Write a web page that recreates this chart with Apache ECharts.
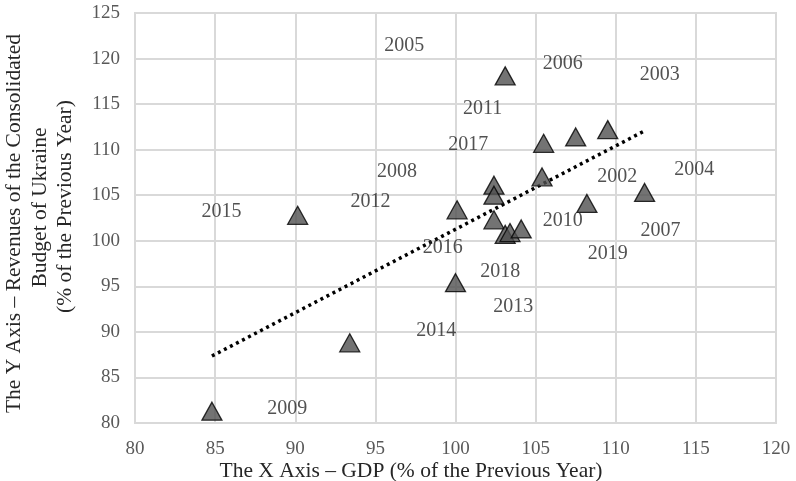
<!DOCTYPE html>
<html>
<head>
<meta charset="utf-8">
<script src="https://cdn.jsdelivr.net/npm/echarts@6/dist/echarts.min.js"></script>
<style>html,body{margin:0;padding:0;background:#fff;}#c{width:796px;height:481px;}</style>
</head>
<body>
<div id="c"></div>
<script>
// GDP (% of previous year) and consolidated budget revenues (% of previous year)
const gdp = [84.8, 93.4, 90.15, 100.0, 100.1, 102.4, 102.4, 102.4, 103.1, 103.4, 104.1, 105.5, 105.4, 107.5, 109.5, 108.2, 111.8, 103.1];
const revenue = [81.3, 88.8, 102.8, 95.4, 103.4, 106.1, 105.0, 102.3, 100.7, 100.9, 101.3, 110.7, 107.0, 111.4, 112.2, 104.1, 105.3, 118.1];

// Year labels and their anchor points (data coordinates)
const yearLabels = ['2005','2006','2003','2011','2017','2008','2012','2015','2009','2016','2018','2010','2002','2004','2007','2019','2013','2014'];
const labelX = [96.8, 106.7, 112.75, 101.7, 100.8, 96.35, 94.7, 85.4, 89.5, 99.2, 102.8, 106.7, 110.1, 114.9, 112.8, 109.5, 103.6, 98.8];
const labelY = [121.4, 119.4, 118.2, 114.5, 110.5, 107.6, 104.3, 103.2, 81.6, 99.2, 96.6, 102.2, 107.0, 107.8, 101.1, 98.6, 92.8, 90.1];

const xTicks = [80, 85, 90, 95, 100, 105, 110, 115, 120];
const yTicks = [80, 85, 90, 95, 100, 105, 110, 115, 120, 125];

const xAxisTitle = 'The X Axis – GDP (% of the Previous Year)';
const yAxisTitle = ['The Y Axis – Revenues of the Consolidated', 'Budget of Ukraine', '(% of the Previous Year)'];

// linear trendline (least squares) from the data
const n = gdp.length;
const mx = gdp.reduce((a, b) => a + b, 0) / n;
const my = revenue.reduce((a, b) => a + b, 0) / n;
let sxy = 0, sxx = 0;
for (let i = 0; i < n; i++) { sxy += (gdp[i] - mx) * (revenue[i] - my); sxx += (gdp[i] - mx) * (gdp[i] - mx); }
const slope = sxy / sxx, icpt = my - slope * mx;
const xmin = Math.min(...gdp), xmax = Math.max(...gdp);
const trend = [[xmin, icpt + slope * xmin], [xmax, icpt + slope * xmax]];

const FONT = 'Liberation Serif';
const chart = echarts.init(document.getElementById('c'), null, { renderer: 'canvas' });
chart.setOption({
  animation: false,
  backgroundColor: '#ffffff',
  grid: { left: 135, right: 20, top: 13, bottom: 58, show: true, borderColor: '#d9d9d9', borderWidth: 2 },
  xAxis: {
    type: 'value', min: xTicks[0], max: xTicks[xTicks.length - 1], interval: 5,
    axisLine: { show: true, lineStyle: { color: '#d9d9d9', width: 2 } },
    axisTick: { show: false },
    axisLabel: { fontFamily: FONT, fontSize: 19, color: '#595959', margin: 17 },
    splitLine: { show: true, lineStyle: { color: '#d9d9d9', width: 2 } }
  },
  yAxis: {
    type: 'value', min: yTicks[0], max: yTicks[yTicks.length - 1], interval: 5,
    axisLine: { show: false },
    axisTick: { show: false },
    axisLabel: { fontFamily: FONT, fontSize: 19, color: '#595959', margin: 15 },
    splitLine: { show: true, lineStyle: { color: '#d9d9d9', width: 2 } }
  },
  graphic: [
    { type: 'text', x: 411, y: 471, style: { text: xAxisTitle, font: '21.5px "Liberation Serif"', fill: '#262626', textAlign: 'center', textVerticalAlign: 'middle' } },
    { type: 'text', x: 14.5, y: 223.5, rotation: Math.PI / 2, style: { text: yAxisTitle[0], font: '21.5px "Liberation Serif"', fill: '#262626', textAlign: 'center', textVerticalAlign: 'middle' } },
    { type: 'text', x: 40, y: 207.5, rotation: Math.PI / 2, style: { text: yAxisTitle[1], font: '21.5px "Liberation Serif"', fill: '#262626', textAlign: 'center', textVerticalAlign: 'middle' } },
    { type: 'text', x: 65.5, y: 206.5, rotation: Math.PI / 2, style: { text: yAxisTitle[2], font: '21.5px "Liberation Serif"', fill: '#262626', textAlign: 'center', textVerticalAlign: 'middle' } }
  ],
  series: [
    {
      type: 'line', data: trend, symbol: 'none', silent: true, z: 3,
      lineStyle: { color: '#000000', width: 3.5, type: [3, 3.8], cap: 'butt' }
    },
    {
      type: 'scatter', data: gdp.map((x, i) => [x, revenue[i]]), z: 4,
      symbol: 'triangle', symbolSize: [20, 18],
      itemStyle: { color: '#505050', borderColor: '#000000', borderWidth: 1.3 }
    },
    {
      type: 'scatter', data: labelX.map((x, i) => [x, labelY[i], yearLabels[i]]), symbolSize: 0, z: 5, silent: true,
      label: { show: true, position: 'inside', formatter: p => p.data[2], fontFamily: FONT, fontSize: 20, color: '#262626' }
    }
  ]
});
</script>
</body>
</html>
